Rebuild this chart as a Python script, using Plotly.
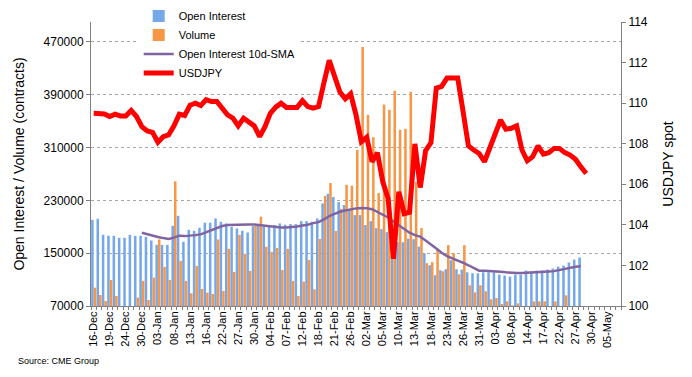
import plotly.graph_objects as go

dates = ["16-Dec","17-Dec","18-Dec","19-Dec","20-Dec","23-Dec","24-Dec","26-Dec","27-Dec","30-Dec",
         "31-Dec","02-Jan","03-Jan","06-Jan","07-Jan","08-Jan","09-Jan","10-Jan","13-Jan","14-Jan",
         "15-Jan","16-Jan","17-Jan","21-Jan","22-Jan","23-Jan","24-Jan","27-Jan","28-Jan","29-Jan",
         "30-Jan","31-Jan","03-Feb","04-Feb","05-Feb","06-Feb","07-Feb","10-Feb","11-Feb","12-Feb",
         "13-Feb","14-Feb","18-Feb","19-Feb","20-Feb","21-Feb","24-Feb","25-Feb","26-Feb","27-Feb",
         "28-Feb","02-Mar","03-Mar","04-Mar","05-Mar","06-Mar","09-Mar","10-Mar","11-Mar","12-Mar",
         "13-Mar","16-Mar","17-Mar","18-Mar","19-Mar","20-Mar","23-Mar","24-Mar","25-Mar","26-Mar",
         "27-Mar","30-Mar","31-Mar","01-Apr","02-Apr","03-Apr","06-Apr","07-Apr","08-Apr","09-Apr",
         "13-Apr","14-Apr","15-Apr","16-Apr","17-Apr","20-Apr","21-Apr","22-Apr","23-Apr","24-Apr",
         "27-Apr","28-Apr","29-Apr","30-Apr","01-May","04-May","05-May","06-May","07-May"]

tick_labels = ["16-Dec","19-Dec","24-Dec","30-Dec","03-Jan","08-Jan","13-Jan","16-Jan","22-Jan",
               "27-Jan","30-Jan","04-Feb","07-Feb","12-Feb","18-Feb","21-Feb","26-Feb","02-Mar",
               "05-Mar","10-Mar","13-Mar","18-Mar","23-Mar","26-Mar","31-Mar","03-Apr","08-Apr",
               "14-Apr","17-Apr","22-Apr","27-Apr","30-Apr","05-May"]

open_interest = [200500,202000,177800,176300,176300,173200,173200,177800,176300,176300,
                 174700,169200,162600,162600,162600,191400,206600,167200,185400,183800,
                 188400,196000,196000,202600,197500,195000,189900,187400,183900,181300,
                 190900,193000,190900,189900,192500,195000,193000,194000,194000,198500,
                 198500,197500,202600,225300,240000,235000,227400,222800,216700,207600,
                 207600,192500,198500,187900,186400,181800,175000,166600,166600,172000,
                 171200,160000,150000,131700,116600,124100,125700,139300,125700,125000,
                 121100,119600,119600,121100,121100,121100,117600,116100,114500,117600,
                 117600,123600,122100,123600,123600,125200,126700,129700,131200,135800,
                 140300,143400]

volume = [97800,86700,77600,109500,85200,50000,50000,50000,82700,108000,
          79100,113000,170700,129200,109500,258700,138300,108000,89200,130700,
          95800,90200,88200,170700,92800,156500,121600,177800,148900,123100,
          191400,205100,159600,152000,158000,124600,156500,108000,85200,107000,
          139500,95300,171500,236800,256200,183600,217000,253500,252000,306300,
          462200,359400,325500,241000,375000,367000,395900,336700,338200,394300,
          257700,187900,134800,136300,156000,122600,162100,150000,118100,162100,
          101400,90700,101400,92300,80100,82100,73000,77100,71000,74000,
          60000,60000,77100,77100,77100,60000,77100,60000,86200,60000,
          60000,60000]

oi_sma_dates = dates[9:92]
oi_sma = [181000,178500,176300,174500,172800,171500,173500,176500,175800,176200,
          177300,178500,181500,185000,188000,191000,192500,193000,193300,193500,
          193500,193500,192500,191300,190000,189000,188900,189000,189400,190500,
          192000,193000,195500,197000,201000,206000,209500,212700,214500,216500,
          217800,218200,218000,216500,212500,208500,204000,198000,192000,186500,
          181000,177300,175000,169000,163500,157000,150500,145500,142000,139000,
          135500,131700,127000,123500,123200,123100,123100,122000,121000,120100,
          119800,119800,120100,120600,121000,121600,122200,122800,124500,126700,
          128000,129500,130200]

usdjpy = [109.50,109.47,109.47,109.34,109.46,109.37,109.37,109.64,109.34,108.84,
          108.63,108.56,108.07,108.35,108.43,108.88,109.46,109.39,109.90,110.00,
          109.88,110.17,110.08,110.08,109.75,109.42,109.26,108.88,109.26,109.04,
          108.88,108.35,108.84,109.50,109.80,110.00,109.79,109.79,109.79,110.12,
          109.83,109.75,109.83,110.99,112.11,111.32,110.55,110.21,110.46,109.42,
          108.10,108.32,107.11,107.56,106.12,105.30,102.33,105.63,104.55,104.62,
          107.99,105.84,107.66,108.05,110.74,110.83,111.24,111.24,111.24,109.59,
          107.89,107.69,107.52,107.11,107.77,108.43,109.17,108.71,108.76,108.88,
          107.69,107.16,107.36,107.89,107.49,107.56,107.77,107.77,107.56,107.44,
          107.23,106.86,106.53]

FONT = "Arial, Liberation Sans, sans-serif"

fig = go.Figure()
fig.add_trace(go.Bar(x=dates[:len(open_interest)], y=open_interest, name="Open Interest",
                     marker=dict(color="#74A8EA", line=dict(width=0))))
fig.add_trace(go.Bar(x=dates[:len(volume)], y=volume, name="Volume",
                     marker=dict(color="#F79646", line=dict(width=0))))
fig.add_trace(go.Scatter(x=oi_sma_dates, y=oi_sma, name="Open Interest 10d-SMA", mode="lines",
                         line=dict(color="#8064A2", width=2.5)))
fig.add_trace(go.Scatter(x=dates[:len(usdjpy)], y=usdjpy, name="USDJPY", mode="lines",
                         line=dict(color="#FF0000", width=5), yaxis="y2"))

ticktext = [d if d in tick_labels else "" for d in dates]

fig.update_layout(
    width=692, height=377,
    margin=dict(l=91, r=71, t=22, b=71, autoexpand=False),
    paper_bgcolor="white", plot_bgcolor="white",
    font=dict(family=FONT, size=12, color="black"),
    barmode="group", bargap=0.05, bargroupgap=0,
    showlegend=True,
    legend=dict(x=0.09, y=1.072, xanchor="left", yanchor="top",
                bgcolor="white", font=dict(size=11, family=FONT),
                traceorder="normal", tracegroupgap=0),
    xaxis=dict(type="category", categoryorder="array", categoryarray=dates,
               range=[-0.5, len(dates) - 0.5], automargin=False,
               tickmode="array", tickvals=dates, ticktext=ticktext,
               tickson="boundaries", ticks="outside", ticklen=3, tickcolor="#808080",
               tickangle=-90, tickfont=dict(size=11, family=FONT),
               showline=True, linecolor="#808080", linewidth=1,
               showgrid=False, zeroline=False),
    yaxis=dict(range=[70000, 500000], tick0=70000, dtick=80000, tickformat="d",
               automargin=False,
               showline=True, linecolor="#808080", linewidth=1,
               ticks="outside", ticklen=4, tickcolor="#808080",
               showgrid=True, gridcolor="#A6A6A6", griddash="dot", gridwidth=1,
               zeroline=False, tickfont=dict(size=12, family=FONT),
               title=dict(text="Open Interest / Volume (contracts)",
                          font=dict(size=14, family=FONT), standoff=15)),
    yaxis2=dict(overlaying="y", side="right", range=[100, 114], dtick=2,
                automargin=False,
                showline=True, linecolor="#808080", linewidth=1,
                ticks="outside", ticklen=4, tickcolor="#808080",
                showgrid=False, zeroline=False, tickfont=dict(size=12, family=FONT),
                title=dict(text="USDJPY spot", font=dict(size=14, family=FONT), standoff=15)),
    annotations=[dict(text="Source: CME Group", xref="paper", yref="paper",
                      x=-0.142, y=-0.195, xanchor="left", yanchor="middle",
                      showarrow=False, font=dict(size=9, family=FONT))],
)

fig.write_html("out.html", config={"displayModeBar": False},
               post_script="document.body.style.margin='0';document.body.style.overflow='hidden';")
